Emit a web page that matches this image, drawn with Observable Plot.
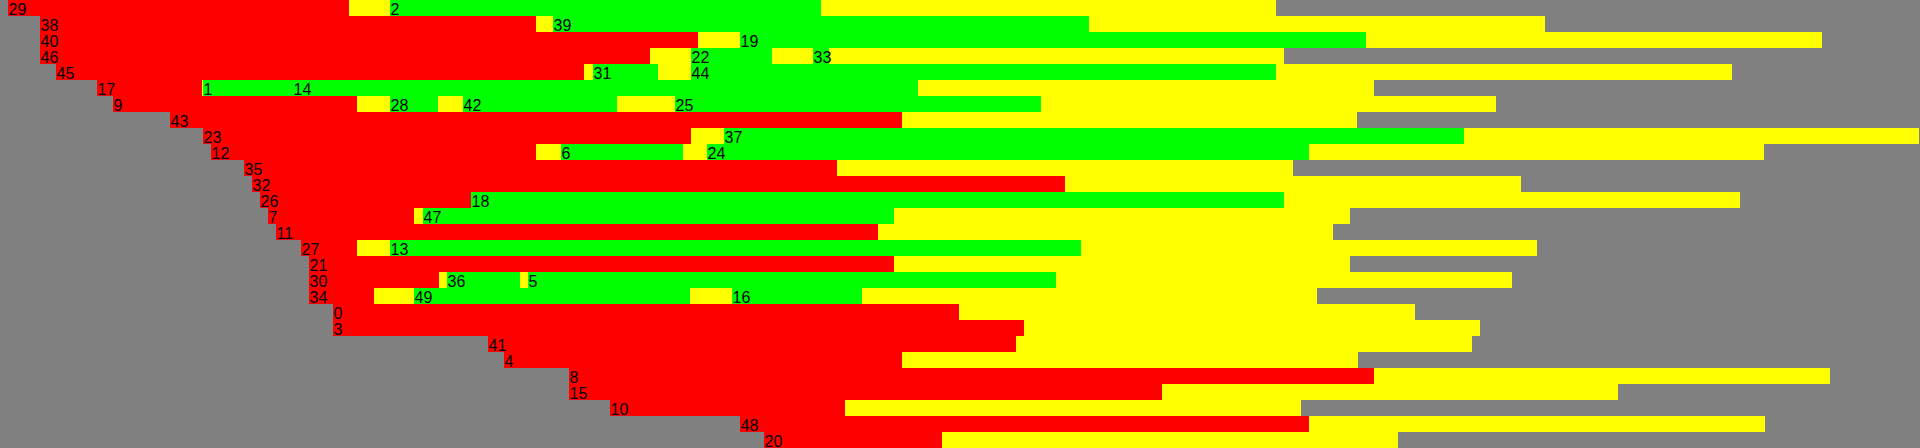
<!DOCTYPE html>
<html>
<head>
<meta charset="utf-8">
<script src="https://cdn.jsdelivr.net/npm/d3@7"></script>
<script src="https://cdn.jsdelivr.net/npm/@observablehq/plot@0.6"></script>
<style>
  html, body { margin: 0; padding: 0; overflow: hidden; background: #808080; }
  #chart svg { display: block; }
</style>
</head>
<body>
<div id="chart"></div>
<script>
// Row labels (top to bottom)
const jobs = ["29","38","40","46","45","17","9","43","23","12","35","32","26","7","11","27","21","30","34","0","3","41","4","8","15","10","48","20"];
// Start of red phase per row
const starts = [8,40,40,40,56,97,113,170,203,211,244,252,260,268,276,301,309,309,309,333,333,488,504,569,569,610,740,764];
// End of red phase per row
const redEnds = [349,536,698,650,584,202,357,902,691,536,837,1065,471,414,878,357,894,439,374,959,1024,1016,902,1374,1162,845,1309,942];
// End of final yellow phase per row
const finishes = [1276,1545,1822,1284,1732,1374,1496,1357,1919,1764,1293,1521,1740,1350,1333,1537,1350,1512,1317,1415,1480,1472,1358,1830,1618,1301,1765,1398];
// Green segments
const greenRow   = [0,1,2,3,3,4,4,5,5,6,6,6,8,9,9,12,13,15,17,17,18,18];
const greenStart = [390,553,740,691,813,593,691,203,293,390,463,675,724,561,707,471,423,390,447,528,414,732];
const greenEnd   = [821,1089,1366,772,829,658,1276,293,918,438,617,1041,1464,683,1309,1284,894,1081,520,1056,690,862];
const greenLabel = ["2","39","19","22","33","31","44","1","14","28","42","25","37","6","24","18","47","13","36","5","49","16"];

const rows = jobs.map((job, i) => ({row: i, job, start: starts[i], redEnd: redEnds[i], finish: finishes[i]}));
const greens = greenRow.map((r, i) => ({row: r, x1: greenStart[i], x2: greenEnd[i], label: greenLabel[i]}));

const chart = Plot.plot({
  width: 1920,
  height: 448,
  margin: 0,
  style: {background: "#808080", fontFamily: "Liberation Sans, Arial, sans-serif"},
  x: {domain: [0, 1920], range: [0, 1920], axis: null},
  y: {type: "band", domain: d3.range(jobs.length), range: [0, 448], padding: 0, axis: null},
  marks: [
    Plot.barX(rows, {y: "row", x1: "redEnd", x2: "finish", fill: "#ffff00", shapeRendering: "crispEdges"}),
    Plot.barX(rows, {y: "row", x1: "start", x2: "redEnd", fill: "#ff0000", shapeRendering: "crispEdges"}),
    Plot.barX(greens, {y: "row", x1: "x1", x2: "x2", fill: "#00ff00", shapeRendering: "crispEdges"}),
    Plot.text(rows, {y: "row", x: "start", text: "job", textAnchor: "start", fill: "black", fontSize: 16, dy: 1.5}),
    Plot.text(greens, {y: "row", x: "x1", text: "label", textAnchor: "start", fill: "black", fontSize: 16, dy: 1.5})
  ]
});
document.getElementById("chart").appendChild(chart);
</script>
</body>
</html>
